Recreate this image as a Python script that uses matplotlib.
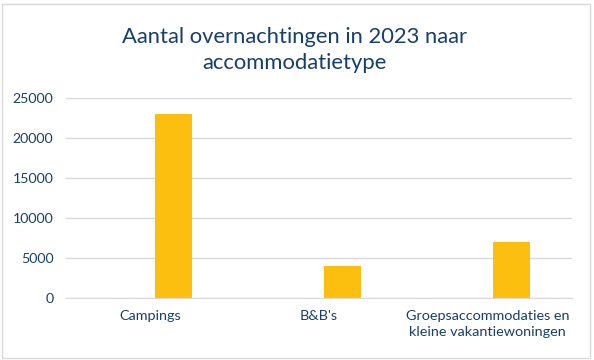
import matplotlib.pyplot as plt
from matplotlib.patches import Rectangle

plt.rcParams['font.family'] = ['Lato', 'DejaVu Sans']

# data
categorieen = ['Campings', "B&B's", 'Groepsaccommodaties en\nkleine vakantiewoningen']
overnachtingen = [23000, 4000, 7000]
y_ticks = [0, 5000, 10000, 15000, 20000, 25000]

tekst_kleur = '#173F6B'
raster_kleur = '#D9D9D9'

fig = plt.figure(figsize=(5.94, 3.6), dpi=100)
ax = fig.add_axes([66 / 594, 1 - 298 / 360, 506 / 594, 200 / 360])

x = list(range(len(categorieen)))
ax.bar([i + 0.14 for i in x], overnachtingen, width=0.22, color='#FCBF10', zorder=3)

ax.set_xlim(-0.5, len(categorieen) - 0.5)
ax.set_ylim(0, 25000)
ax.set_yticks(y_ticks)
ax.set_xticks(x)
ax.set_xticklabels(categorieen, fontsize=10.4, color=tekst_kleur, linespacing=1.35)
ax.tick_params(axis='y', length=0, labelsize=10.2, labelcolor=tekst_kleur, pad=9)
ax.tick_params(axis='x', length=0, pad=9)
ax.grid(axis='y', color=raster_kleur, linewidth=1, zorder=0)

for s in ['top', 'right', 'left']:
    ax.spines[s].set_visible(False)
ax.spines['bottom'].set_color(raster_kleur)
ax.spines['bottom'].set_zorder(4)

fig.text(0.495, 1 - 50 / 360, 'Aantal overnachtingen in 2023 naar\naccommodatietype',
         ha='center', va='center', fontsize=15.8, color=tekst_kleur, linespacing=1.4)

# rand om de grafiek
fig.patches.append(Rectangle((2 / 594, 2 / 360), 588 / 594, 354 / 360,
                             transform=fig.transFigure, fill=False,
                             edgecolor=raster_kleur, linewidth=1))

fig.savefig('out.png', dpi=100)
